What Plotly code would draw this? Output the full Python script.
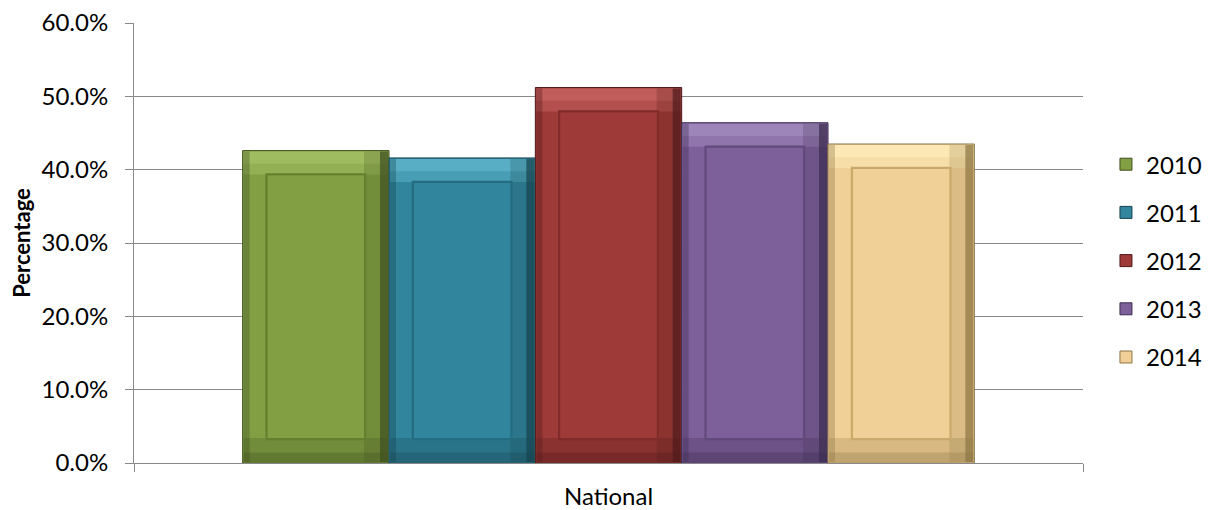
import plotly.graph_objects as go

categories = ["National"]
years = ["2010", "2011", "2012", "2013", "2014"]
values = [42.6, 41.6, 51.2, 46.4, 43.5]
colors = ["#82A043", "#31859C", "#9E3A38", "#7D5F9A", "#F0D096"]
light_colors = ["#A9C66A", "#66BDD3", "#CC6A66", "#A890C4", "#FFF0BE"]
mid_colors = ["#64802F", "#246C80", "#7E2B29", "#614A7B", "#C9AA6C"]
dark_colors = ["#3E4E1F", "#17434F", "#4E1A19", "#3C2C4E", "#8C7545"]
y_ticks = [0, 10, 20, 30, 40, 50, 60]
y_tick_text = [f"{v:.1f}%" for v in y_ticks]

# layout / style constants
PLOT_W_PX = 949.0
PLOT_H_PX = 440.0
Y_MAX = 60.0
BARGAP = 0.229
n = len(years)
bar_w = (1 - BARGAP) / n
px_x = 1.0 / PLOT_W_PX          # category units per pixel
px_y = Y_MAX / PLOT_H_PX         # % per pixel
bevel_x = 24 * px_x
bevel_y = 24 * px_y


def layer(fig, base, height, offset, width, color, opacity):
    fig.add_trace(go.Bar(
        x=categories, y=[height], base=[base], width=width, offset=offset,
        showlegend=False, hoverinfo="skip",
        marker=dict(color=color, opacity=opacity, line=dict(width=0)),
    ))


fig = go.Figure()
for i, (yr, v, c, lc, mc, dc) in enumerate(zip(years, values, colors, light_colors, mid_colors, dark_colors)):
    off = -(1 - BARGAP) / 2 + i * bar_w
    # outer body
    fig.add_trace(go.Bar(
        x=categories, y=[v], name=yr, legendgroup=yr,
        width=bar_w, offset=off,
        marker=dict(color=c, line=dict(color=dc, width=1)),
        hoverinfo="name+y",
    ))
    inner_w = bar_w - 2 * px_x
    # top bevel highlight (two steps)
    layer(fig, v - bevel_y, bevel_y - px_y, off + px_x, inner_w, lc, 0.45)
    layer(fig, v - 0.55 * bevel_y, 0.55 * bevel_y - px_y, off + px_x, inner_w, lc, 0.55)
    # bottom bevel shade
    layer(fig, px_y, bevel_y, off + px_x, inner_w, dc, 0.25)
    layer(fig, px_y, 0.4 * bevel_y, off + px_x, inner_w, dc, 0.3)
    # left edge shade
    layer(fig, px_y, v - 2 * px_y, off + px_x, 6 * px_x, dc, 0.35)
    # right bevel shade
    layer(fig, px_y, v - 2 * px_y, off + bar_w - bevel_x - px_x, bevel_x, dc, 0.22)
    layer(fig, px_y, v - 2 * px_y, off + bar_w - 9 * px_x, 8 * px_x, dc, 0.7)
    # inner panel
    fig.add_trace(go.Bar(
        x=categories, y=[v - 2 * bevel_y], base=[bevel_y],
        width=bar_w - 2 * bevel_x, offset=off + bevel_x, showlegend=False,
        marker=dict(color=c, line=dict(color=mc, width=2.5)), hoverinfo="skip",
    ))
    layer(fig, bevel_y + px_y, v - 2 * bevel_y - 2 * px_y,
          off + bevel_x + px_x, bar_w - 2 * bevel_x - 2 * px_x, c, 1)

font_family = "Lato, 'Open Sans', sans-serif"
fig.update_layout(
    width=1212, height=510,
    # the page body has an 8px margin, so margins are shifted to compensate
    margin=dict(l=126, r=137, t=15, b=55),
    paper_bgcolor="white", plot_bgcolor="white",
    barmode="overlay",
    font=dict(family=font_family, size=24, color="#000000"),
    legend=dict(x=1.0242, y=0.46, yanchor="middle", xanchor="left",
                tracegroupgap=14, font=dict(size=24),
                itemwidth=30),
    xaxis=dict(
        automargin=False,
        showgrid=False, showline=True, linecolor="#898989", linewidth=1,
        ticks="outside", tickson="boundaries", ticklen=8, tickcolor="#898989",
        tickfont=dict(size=24), ticklabelstandoff=12,
    ),
    yaxis=dict(
        automargin=False, ticklabeloverflow="allow",
        range=[0, Y_MAX], tickvals=y_ticks, ticktext=y_tick_text,
        showgrid=True, gridcolor="#898989", gridwidth=1,
        showline=True, linecolor="#898989", linewidth=1,
        ticks="outside", ticklen=8, tickcolor="#898989",
        zeroline=False, ticklabelstandoff=12,
        title=dict(text="<b>Percentage</b>", font=dict(size=22), standoff=10),
    ),
)
fig.write_html("out.html")
